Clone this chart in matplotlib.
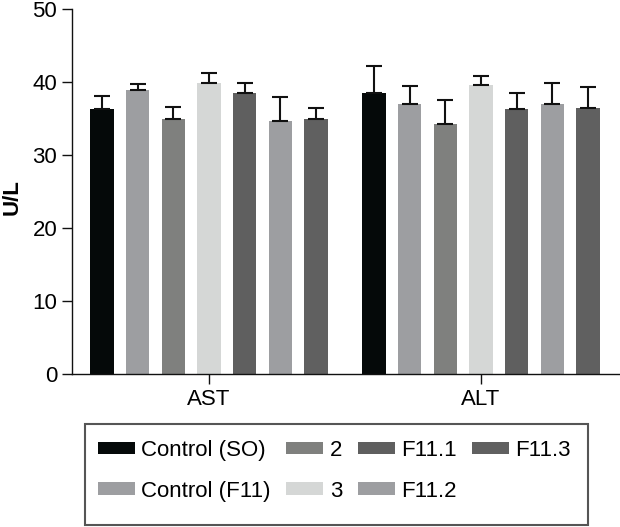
import matplotlib
matplotlib.use("Agg")
import matplotlib.pyplot as plt
from matplotlib.patches import Rectangle
import numpy as np

plt.rcParams['font.family'] = ['Liberation Sans', 'DejaVu Sans']

groups = ["AST", "ALT"]
series = ["Control (SO)", "Control (F11)", "2", "3", "F11.1", "F11.2", "F11.3"]
colors = ["#050909", "#9d9ea1", "#7f807e", "#d5d7d6", "#5f5f5f", "#9d9ea1", "#606060"]
means = {
    "Control (SO)": [36.3, 38.5],
    "Control (F11)": [38.9, 37.0],
    "2": [35.0, 34.3],
    "3": [39.9, 39.6],
    "F11.1": [38.5, 36.3],
    "F11.2": [34.6, 37.0],
    "F11.3": [34.9, 36.4],
}
err_top = {
    "Control (SO)": [38.1, 42.2],
    "Control (F11)": [39.7, 39.5],
    "2": [36.6, 37.6],
    "3": [41.2, 40.9],
    "F11.1": [39.9, 38.5],
    "F11.2": [38.0, 39.9],
    "F11.3": [36.4, 39.3],
}
yticks = [0, 10, 20, 30, 40, 50]

W, H = 620, 527
fig = plt.figure(figsize=(6.2, 5.27), dpi=100)
ax = fig.add_axes([72/W, 1-373.7/H, 1-72/W, (373.7-9.2)/H])

spacing = 35.65/272
width = 23.3/272
xg = np.arange(len(groups))
handles = []
for i, s in enumerate(series):
    x = xg + (i - 3) * spacing
    m = np.array(means[s])
    e = np.array(err_top[s]) - m
    b = ax.bar(x, m, width=width, color=colors[i], edgecolor='none', zorder=2, label=s)
    ax.errorbar(x, m, yerr=[np.zeros_like(e), e], fmt='none', ecolor='#111111',
                elinewidth=1.5, capsize=6, capthick=1.5, zorder=3)
    handles.append(b)

ax.set_xlim(-0.504, 1.511)
ax.set_ylim(0, 50)
ax.set_yticks(yticks)
ax.set_xticks(xg)
ax.set_xticklabels(groups)
for sp in ['top', 'right']:
    ax.spines[sp].set_visible(False)
for sp in ['left', 'bottom']:
    ax.spines[sp].set_linewidth(1.0)
    ax.spines[sp].set_color('#111111')
ax.tick_params(axis='both', labelsize=16, length=7.2, width=1.0, color='#111111')
ax.tick_params(axis='y', pad=3.5)
ax.tick_params(axis='x', pad=4)
ax.set_ylabel("U/L", fontsize=16, fontweight='bold')
ax.yaxis.set_label_coords(-0.09, 0.485)

# legend frame
fig.patches.append(Rectangle((85/W, 1-525/H), (588-85)/W, (525-424.3)/H,
                             transform=fig.transFigure, fill=False,
                             edgecolor='#555555', linewidth=1.5))
leg = fig.legend(handles=handles, labels=series, ncol=4, loc='upper left',
                 bbox_to_anchor=(98/W, 1-440/H), bbox_transform=fig.transFigure,
                 fontsize=16, frameon=False,
                 handlelength=1.67, handleheight=0.5, handletextpad=0.28,
                 columnspacing=0.7, labelspacing=0.88, borderpad=0, borderaxespad=0)

fig.savefig("out.png", dpi=100)
